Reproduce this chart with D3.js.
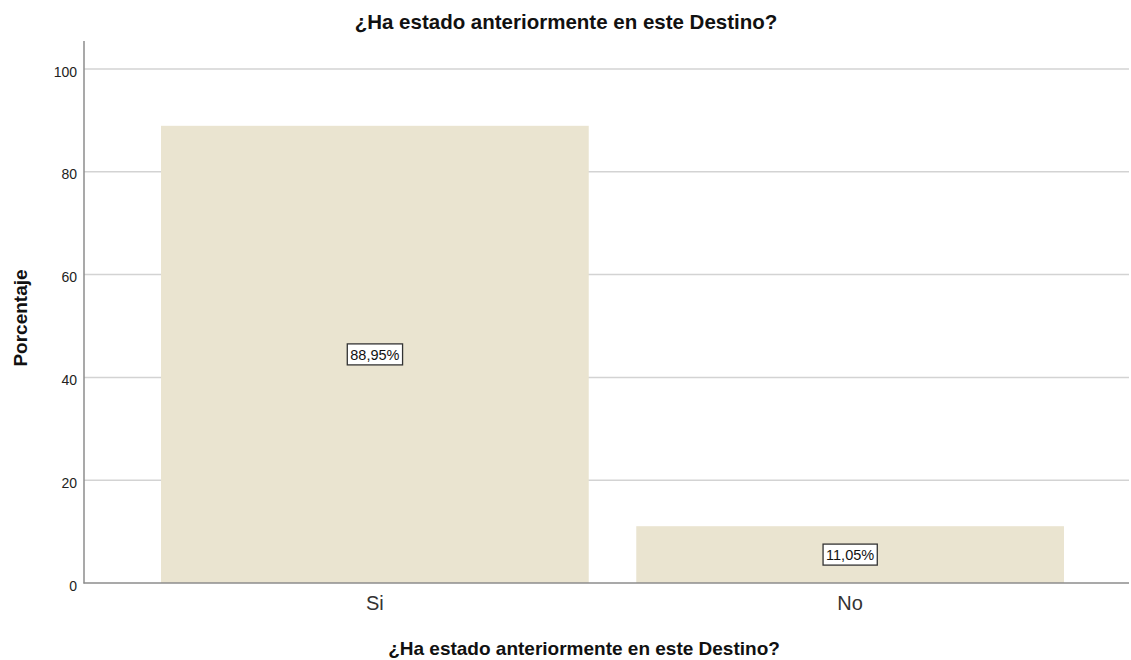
<!DOCTYPE html>
<html>
<head>
<meta charset="utf-8">
<script src="https://cdn.jsdelivr.net/npm/d3@7"></script>
<style>
  html, body { margin: 0; padding: 0; background: #ffffff; }
  svg { display: block; font-family: "Liberation Sans", Arial, sans-serif; }
</style>
</head>
<body>
<svg id="chart" width="1131" height="660"></svg>
<script>
// Survey answers and their percentages
const categories = ["Si", "No"];
const percentages = [88.95, 11.05];
const yTicks = [0, 20, 40, 60, 80, 100];
const chartTitle = "¿Ha estado anteriormente en este Destino?";
const xTitle = "¿Ha estado anteriormente en este Destino?";
const yTitle = "Porcentaje";

const svg = d3.select("#chart");
const plotLeft = 84, plotRight = 1129, plotTop = 41, plotBottom = 583;

const y = d3.scaleLinear().domain([0, 100]).range([plotBottom, 69]);
const x = d3.scaleBand().domain(categories)
  .range([113.5, 1111.5]).paddingInner(0.1).paddingOuter(0.1);

// Horizontal gridlines
svg.append("g").selectAll("line")
  .data(yTicks.filter(d => d > 0))
  .join("line")
  .attr("x1", plotLeft).attr("x2", plotRight)
  .attr("y1", d => y(d)).attr("y2", d => y(d))
  .attr("stroke", "#d3d3d3").attr("stroke-width", 1.5);

// Bars
const data = categories.map((c, i) => ({ c, v: percentages[i] }));
svg.append("g").selectAll("rect")
  .data(data)
  .join("rect")
  .attr("x", d => x(d.c))
  .attr("width", x.bandwidth())
  .attr("y", d => y(d.v))
  .attr("height", d => y(0) - y(d.v))
  .attr("fill", "#eae4d0");

// Y axis
const yAxis = svg.append("g").attr("transform", `translate(${plotLeft},0)`)
  .call(d3.axisLeft(y).tickValues(yTicks).tickSize(0).tickPadding(7));
yAxis.select(".domain").remove();
yAxis.selectAll("text").attr("font-size", 14).attr("fill", "#222")
  .attr("dy", "0.5em")
  .attr("font-family", "Liberation Sans, Arial, sans-serif");
svg.append("line").attr("x1", plotLeft).attr("x2", plotLeft)
  .attr("y1", plotTop).attr("y2", plotBottom + 0.5)
  .attr("stroke", "#8c8c8c").attr("stroke-width", 1.5);

// X axis
svg.append("line").attr("x1", plotLeft - 0.5).attr("x2", plotRight)
  .attr("y1", plotBottom).attr("y2", plotBottom)
  .attr("stroke", "#8c8c8c").attr("stroke-width", 1.5);
const xAxis = svg.append("g").attr("transform", `translate(0,${plotBottom})`)
  .call(d3.axisBottom(x).tickSize(0).tickPadding(13));
xAxis.select(".domain").remove();
xAxis.selectAll("text").attr("font-size", 20).attr("fill", "#333")
  .attr("font-family", "Liberation Sans, Arial, sans-serif");

// Value labels with boxes
const fmt = v => v.toFixed(2).replace(".", ",") + "%";
const labels = svg.append("g").selectAll("g")
  .data(data).join("g")
  .attr("transform", d => `translate(${x(d.c) + x.bandwidth() / 2},${y(d.v / 2)})`);
labels.append("text")
  .attr("text-anchor", "middle").attr("dy", "0.36em")
  .attr("font-size", 14.5).attr("fill", "#111")
  .text(d => fmt(d.v));
labels.each(function () {
  const g = d3.select(this);
  const bb = g.select("text").node().getBBox();
  g.insert("rect", "text")
    .attr("x", bb.x - 3).attr("y", -10.5)
    .attr("width", bb.width + 6).attr("height", 21)
    .attr("fill", "#ffffff").attr("stroke", "#333").attr("stroke-width", 1.3);
});

// Titles
svg.append("text").attr("x", 566).attr("y", 29)
  .attr("text-anchor", "middle").attr("font-size", 20.5).attr("font-weight", "bold")
  .attr("fill", "#111").text(chartTitle);
svg.append("text").attr("x", 584).attr("y", 655)
  .attr("text-anchor", "middle").attr("font-size", 19).attr("font-weight", "bold")
  .attr("fill", "#111").text(xTitle);
svg.append("text")
  .attr("transform", "translate(27,318) rotate(-90)")
  .attr("text-anchor", "middle").attr("font-size", 19).attr("font-weight", "bold")
  .attr("fill", "#111").text(yTitle);
</script>
</body>
</html>
